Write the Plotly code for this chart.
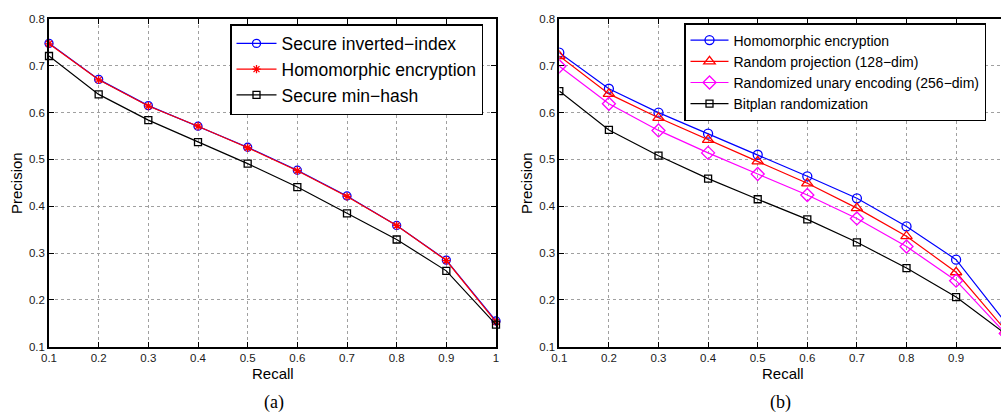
import plotly.graph_objects as go

# ---- data ----
recall = [0.1, 0.2, 0.3, 0.4, 0.5, 0.6, 0.7, 0.8, 0.9, 1.0]

# (a)
a_secure_inverted = [0.748, 0.671, 0.615, 0.571, 0.526, 0.477, 0.422, 0.359, 0.285, 0.155]
a_homomorphic = [0.747, 0.670, 0.614, 0.571, 0.525, 0.476, 0.421, 0.359, 0.284, 0.153]
a_minhash = [0.721, 0.639, 0.584, 0.537, 0.491, 0.441, 0.385, 0.329, 0.262, 0.147]

# (b)
b_homomorphic = [0.728, 0.651, 0.600, 0.555, 0.510, 0.464, 0.417, 0.357, 0.286, 0.151]
b_random_proj = [0.721, 0.640, 0.589, 0.542, 0.496, 0.449, 0.396, 0.336, 0.259, 0.135]
b_unary = [0.699, 0.619, 0.562, 0.514, 0.469, 0.424, 0.374, 0.314, 0.241, 0.128]
b_bitplan = [0.646, 0.563, 0.508, 0.459, 0.415, 0.372, 0.323, 0.268, 0.206, 0.127]

y_ticks = [0.1, 0.2, 0.3, 0.4, 0.5, 0.6, 0.7, 0.8]
x_ticks = [0.1, 0.2, 0.3, 0.4, 0.5, 0.6, 0.7, 0.8, 0.9, 1.0]

W, H = 1001, 412
SANS = "Arial"
SERIF = "Times New Roman"

def px(x):
    return x / W

def py(y):
    return 1 - y / H

fig = go.Figure()

def add(x, y, name, color, symbol, size, xa, ya, legend, clip):
    fig.add_trace(go.Scatter(
        x=x, y=y, name=name, mode="lines+markers",
        line=dict(color=color, width=1.2),
        marker=dict(symbol=symbol, size=size, color=color,
                    line=dict(color=color, width=1.3)),
        xaxis=xa, yaxis=ya, legend=legend, cliponaxis=clip,
    ))

add(recall, a_secure_inverted, "Secure inverted\u2212index", "#0000ff", "circle-open", 8, "x", "y", "legend", False)
add(recall, a_homomorphic, "Homomorphic encryption", "#ff0000", "asterisk-open", 7, "x", "y", "legend", False)
add(recall, a_minhash, "Secure min\u2212hash", "#000000", "square-open", 7, "x", "y", "legend", False)

add(recall, b_homomorphic, "Homomorphic encryption", "#0000ff", "circle-open", 9, "x2", "y2", "legend2", True)
add(recall, b_random_proj, "Random projection (128\u2212dim)", "#ff0000", "triangle-up-open", 10, "x2", "y2", "legend2", True)
add(recall, b_unary, "Randomized unary encoding (256\u2212dim)", "#ff00ff", "diamond-open", 10, "x2", "y2", "legend2", True)
add(recall, b_bitplan, "Bitplan randomization", "#000000", "square-open", 7, "x2", "y2", "legend2", True)

y_dom = [py(346.7), py(19)]

common_axis = dict(
    showline=True, linecolor="black", linewidth=1.5,
    ticks="inside", ticklen=5, tickcolor="black", tickwidth=1,
    showgrid=True, gridcolor="#a0a0a0", griddash="dot", gridwidth=1,
    zeroline=False, automargin=False,
    tickfont=dict(family=SANS, size=11.5, color="#1a1a1a"),
)

fig.update_layout(
    template="none",
    width=W, height=H,
    margin=dict(l=0, r=0, t=0, b=0, autoexpand=False),
    paper_bgcolor="white", plot_bgcolor="white",
    xaxis=dict(domain=[px(49), px(496)], range=[0.1, 1.0], tickvals=x_ticks,
               mirror="allticks", anchor="y", **common_axis),
    yaxis=dict(domain=y_dom, range=[0.1, 0.8], tickvals=y_ticks,
               mirror="allticks", anchor="x", **common_axis),
    xaxis2=dict(domain=[px(559.3), 1.0], range=[0.1, 0.9905], tickvals=x_ticks,
                mirror="allticks", anchor="y2", **common_axis),
    yaxis2=dict(domain=y_dom, range=[0.1, 0.8], tickvals=y_ticks,
                mirror=False, anchor="x2", **common_axis),
    legend=dict(x=px(230), y=py(24), xanchor="left", yanchor="top",
                bgcolor="white", bordercolor="black", borderwidth=1.5,
                font=dict(family=SANS, size=17.5, color="black"),
                tracegroupgap=0, itemwidth=40),
    legend2=dict(x=px(684), y=py(23), xanchor="left", yanchor="top",
                 bgcolor="white", bordercolor="black", borderwidth=1.5,
                 font=dict(family=SANS, size=14, color="black"),
                 tracegroupgap=0, itemwidth=38),
    showlegend=True,
)

def ann(text, x, y, size, family=SANS, angle=0):
    fig.add_annotation(text=text, x=px(x), y=py(y), xref="paper", yref="paper",
                       showarrow=False, textangle=angle,
                       font=dict(family=family, size=size, color="black"),
                       xanchor="center", yanchor="middle")

ann("Precision", 16, 183, 15, angle=-90)
ann("Precision", 526, 183, 15, angle=-90)
ann("Recall", 272.5, 373, 15)
ann("Recall", 783, 373, 15)
ann("(a)", 273.5, 402, 18, family=SERIF)
ann("(b)", 780, 402, 18, family=SERIF)

fig.write_html(
    "out.html",
    config={"displayModeBar": False},
    post_script="document.body.style.margin='0';document.body.style.overflow='hidden';",
)
